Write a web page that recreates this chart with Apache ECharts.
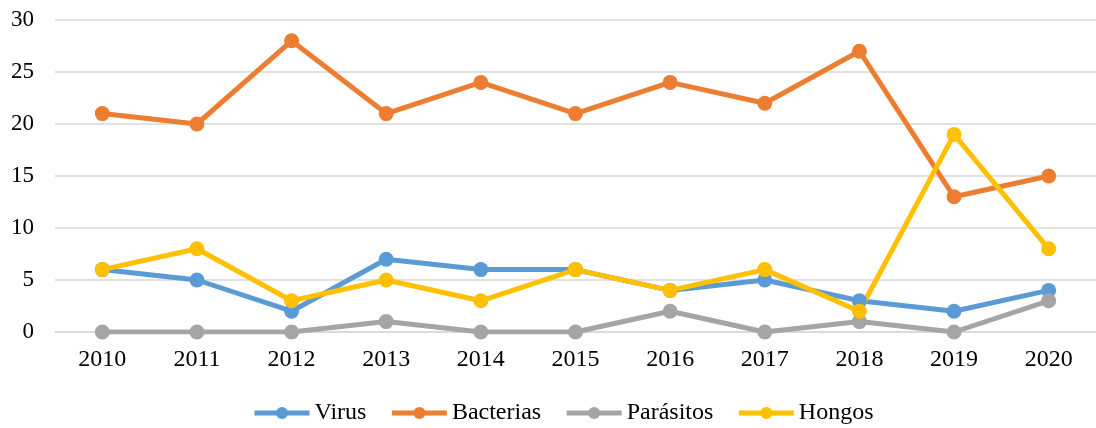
<!DOCTYPE html>
<html lang="es">
<head>
<meta charset="UTF-8">
<title>Chart</title>
<script src="https://cdn.jsdelivr.net/npm/echarts@6/dist/echarts.min.js"></script>
<style>
  html, body { margin: 0; padding: 0; background: #fff; }
  #main { width: 1096px; height: 428px; }
</style>
</head>
<body>
<div id="main"></div>
<script>
var years = ['2010', '2011', '2012', '2013', '2014', '2015', '2016', '2017', '2018', '2019', '2020'];
var virus = [6, 5, 2, 7, 6, 6, 4, 5, 3, 2, 4];
var bacterias = [21, 20, 28, 21, 24, 21, 24, 22, 27, 13, 15];
var parasitos = [0, 0, 0, 1, 0, 0, 2, 0, 1, 0, 3];
var hongos = [6, 8, 3, 5, 3, 6, 4, 6, 2, 19, 8];

var font = '"Liberation Serif", "Times New Roman", serif';

function line(name, data, color) {
    return {
        name: name,
        type: 'line',
        data: data,
        symbol: 'circle',
        symbolSize: 15,
        lineStyle: { width: 5, color: color },
        itemStyle: { color: color },
        emphasis: { disabled: true }
    };
}

var chart = echarts.init(document.getElementById('main'));
chart.setOption({
    animation: false,
    textStyle: { fontFamily: font },
    grid: { left: 55, right: 0, top: 20, bottom: 96, containLabel: false },
    legend: {
        top: 396,
        left: 247,
        itemWidth: 55,
        itemHeight: 15,
        itemGap: 23,
        lineStyle: { width: 5 },
        textStyle: { fontFamily: font, fontSize: 24, color: '#000' },
        data: ['Virus', 'Bacterias', 'Parásitos', 'Hongos']
    },
    xAxis: {
        type: 'category',
        data: years,
        boundaryGap: true,
        axisLine: { lineStyle: { color: '#D9D9D9', width: 1.5 } },
        axisTick: { show: false },
        axisLabel: { fontFamily: font, fontSize: 24, color: '#000', margin: 16 }
    },
    yAxis: {
        type: 'value',
        min: 0,
        max: 30,
        interval: 5,
        axisLine: { show: false },
        axisTick: { show: false },
        splitLine: { lineStyle: { color: '#D9D9D9', width: 1.5 } },
        axisLabel: { fontFamily: font, fontSize: 23, color: '#000', margin: 21 }
    },
    series: [
        line('Virus', virus, '#5B9BD5'),
        line('Bacterias', bacterias, '#ED7D31'),
        line('Parásitos', parasitos, '#A5A5A5'),
        line('Hongos', hongos, '#FFC000')
    ]
});
</script>
</body>
</html>
